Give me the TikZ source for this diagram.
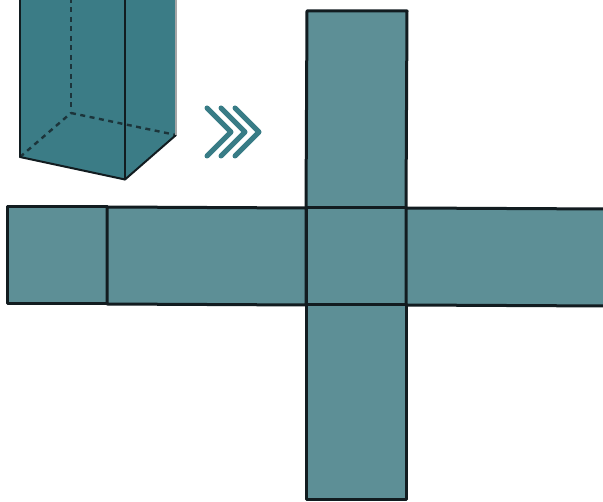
\documentclass[tikz,border=0pt]{standalone}
\definecolor{netfill}{RGB}{93,143,150}
\definecolor{boxfill}{RGB}{59,124,134}
\definecolor{chev}{RGB}{56,124,134}
\definecolor{ink}{RGB}{18,28,32}
\tikzset{
  px/.style={x=1pt,y=-1pt},
  netface/.style={fill=netfill,draw=ink,line width=3pt,line join=round},
  boxface/.style={fill=boxfill,draw=none},
  edge3d/.style={draw=ink,line width=2pt,line cap=round},
  hidden3d/.style={draw=ink!75!boxfill,line width=2.4pt,dash pattern=on 5pt off 4.5pt},
  chevron/.style={draw=chev,line width=5pt,line cap=round,line join=round}
}
\begin{document}
\begin{tikzpicture}[px]
\useasboundingbox (0,0) rectangle (603,502);
% folded box
\begin{scope}
\clip (0,0) rectangle (603,502);
\fill[boxface] (20,-2) -- (176,-2) -- (176,135) -- (125,179.5) -- (20,157) -- cycle;
\coordinate (bl) at (20,157);
\coordinate (bm) at (125,179.5);
\coordinate (br) at (176,135);
\coordinate (hb) at (71,113);
\coordinate (tl) at (20,-2);
\coordinate (tm) at (125,-2);
\coordinate (tr) at (176,-2);
\coordinate (th) at (71,-2);
\draw[hidden3d] (th) -- (hb);
\draw[hidden3d] (bl) -- (hb);
\draw[hidden3d] (hb) -- (br);
\draw[edge3d] (tl) -- (bl);
\draw[edge3d] (bl) -- (bm);
\draw[edge3d] (bm) -- (br);
\draw[edge3d] (tm) -- (bm);
\draw[draw=black!35,line width=1.2pt] (tr) -- (br);
\end{scope}
% chevrons
\foreach \dx in {0,14,28}{
  \draw[chevron] (207+\dx,108) -- (231+\dx,132) -- (207+\dx,156);
}
% net of the box
\coordinate (a1) at (307,11);
\coordinate (a2) at (407,11);
\coordinate (b0) at (7,207);
\coordinate (b1) at (107,207);
\coordinate (b2) at (306,208);
\coordinate (b3) at (406,208);
\coordinate (b4) at (606,209);
\coordinate (c0) at (7,304);
\coordinate (c1) at (107,304);
\coordinate (c2) at (306,305);
\coordinate (c3) at (406,305);
\coordinate (c4) at (606,306);
\coordinate (d2) at (306,500);
\coordinate (d3) at (406,500);
\begin{scope}
\clip (0,0) rectangle (603,502);
\path[netface] (a1) -- (a2) -- (b3) -- (b2) -- cycle;
\path[netface] (b0) -- (b1) -- (c1) -- (c0) -- cycle;
\path[netface] (b1) -- (b2) -- (c2) -- (c1) -- cycle;
\path[netface] (b2) -- (b3) -- (c3) -- (c2) -- cycle;
\path[netface] (b3) -- (b4) -- (c4) -- (c3) -- cycle;
\path[netface] (c2) -- (c3) -- (d3) -- (d2) -- cycle;
\end{scope}
\end{tikzpicture}
\end{document}
